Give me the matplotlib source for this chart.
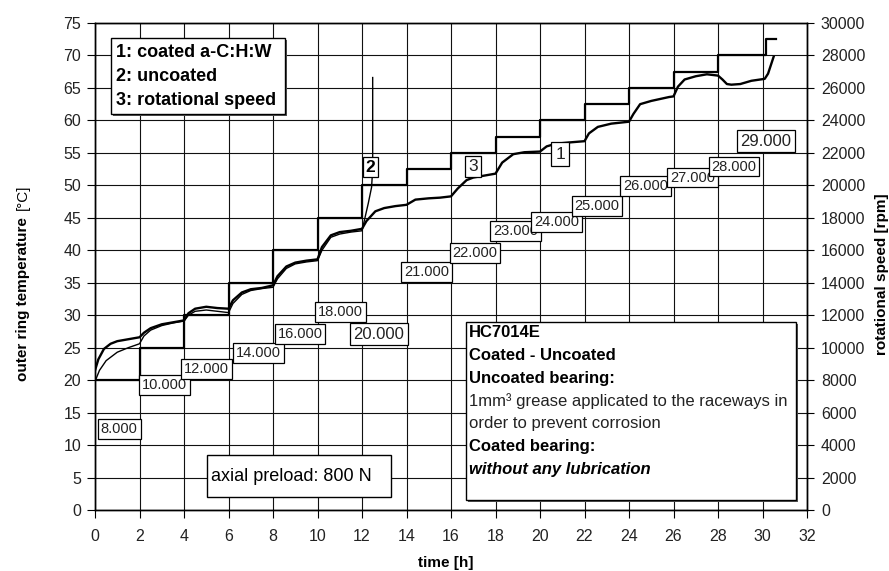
import matplotlib
matplotlib.use('Agg')
import matplotlib.pyplot as plt
from matplotlib.patches import Rectangle

# ---------------- data ----------------
speed_time = [0, 2, 4, 6, 8, 10, 12, 14, 16, 18, 20, 22, 24, 26, 28, 30.15, 30.6]
speed_rpm = [8000, 10000, 12000, 14000, 16000, 18000, 20000, 21000, 22000, 23000,
             24000, 25000, 26000, 27000, 28000, 29000, 29000]

coated_time = [0, 0.15, 0.4, 0.7, 1.0, 1.5, 2.0, 2.2, 2.5, 3.0, 3.5, 4.0, 4.2, 4.5, 5.0, 5.5,
               6.0, 6.2, 6.6, 7.0, 7.5, 8.0, 8.2, 8.6, 9.0, 9.5, 10.0, 10.2, 10.6, 11.0, 11.5,
               12.0, 12.2, 12.6, 13.0, 13.5, 14.0, 14.4, 15.0, 15.5, 16.0, 16.3, 16.7, 17.0,
               17.5, 18.0, 18.3, 18.8, 19.3, 20.0, 20.3, 20.7, 21.3, 22.0, 22.2, 22.6, 23.2,
               24.0, 24.2, 24.5, 25.0, 25.8, 26.0, 26.2, 26.5, 27.0, 27.5, 28.0, 28.2, 28.4,
               28.6, 29.0, 29.5, 30.1, 30.25, 30.5]
coated_temp = [21.5, 23.2, 24.8, 25.6, 26.0, 26.3, 26.6, 27.3, 28.0, 28.6, 28.9, 29.2, 30.3,
               31.0, 31.3, 31.1, 31.0, 32.3, 33.5, 34.0, 34.2, 34.6, 36.0, 37.5, 38.1, 38.4,
               38.6, 40.5, 42.3, 42.8, 43.0, 43.3, 44.5, 46.0, 46.5, 46.8, 47.0, 47.8, 48.0,
               48.1, 48.3, 49.5, 50.8, 51.2, 51.5, 51.8, 53.5, 54.8, 55.1, 55.2, 56.0, 56.4,
               56.6, 56.8, 58.0, 59.0, 59.5, 59.8, 61.0, 62.5, 63.0, 63.6, 63.7, 65.2, 66.3,
               66.8, 67.1, 66.9, 66.3, 65.6, 65.5, 65.6, 66.1, 66.4, 67.2, 69.8]

uncoated_time = [0, 0.2, 0.5, 1.0, 1.5, 2.0, 2.2, 2.5, 3.0, 3.5, 4.0, 4.2, 4.5, 5.0, 5.5, 6.0,
                 6.2, 6.6, 7.0, 7.5, 8.0, 8.2, 8.6, 9.0, 9.5, 10.0, 10.2, 10.6, 11.0, 11.5,
                 12.0, 12.28, 12.43, 12.48, 12.48]
uncoated_temp = [19.8, 21.5, 23.0, 24.3, 25.0, 25.6, 26.8, 27.7, 28.4, 28.8, 29.1, 30.0, 30.6,
                 30.8, 30.6, 30.4, 31.8, 33.2, 33.8, 34.1, 34.3, 35.6, 37.2, 37.9, 38.2, 38.4,
                 40.0, 42.0, 42.5, 42.8, 43.0, 47.2, 49.7, 52.5, 66.6]

speed_labels = ['8.000', '10.000', '12.000', '14.000', '16.000', '18.000', '20.000', '21.000',
                '22.000', '23.000', '24.000', '25.000', '26.000', '27.000', '28.000', '29.000']

x_ticks = list(range(0, 33, 2))
y_ticks = list(range(0, 76, 5))
y2_ticks = list(range(0, 30001, 2000))

legend_lines = ['1: coated a-C:H:W', '2: uncoated', '3: rotational speed']
info_lines = ['HC7014E', 'Coated - Uncoated', 'Uncoated bearing:',
              '1mm\u00b3 grease applicated to the raceways in', 'order to prevent corrosion',
              'Coated bearing:', 'without any lubrication']

# ---------------- layout ----------------
label_pos = [(1.09, 12.5), (3.11, 19.2), (5.01, 21.7), (7.36, 24.2), (9.21, 27.1),
             (11.02, 30.5), (12.76, 27.1), (14.9, 36.6), (17.08, 39.6), (18.9, 43.0),
             (20.75, 44.4), (22.56, 46.8), (24.75, 49.9), (26.85, 51.2), (28.72, 52.9),
             (30.16, 56.8)]
label_big = {'20.000', '29.000'}

SANS = ['Liberation Sans', 'DejaVu Sans']
plt.rcParams['font.family'] = SANS

W, H = 889, 571
fig = plt.figure(figsize=(W / 100, H / 100), dpi=100)
ax = fig.add_axes([95 / W, 61 / H, 712 / W, 487 / H])
ax2 = ax.twinx()

ax.set_xlim(0, 32)
ax.set_ylim(0, 75)
ax2.set_ylim(0, 30000)
ax.set_xticks(x_ticks)
ax.set_yticks(y_ticks)
ax2.set_yticks(y2_ticks)
ax.grid(True, color='#111111', lw=0.8)
ax.set_axisbelow(True)
for a in (ax, ax2):
    for s in a.spines.values():
        s.set_color('black')
        s.set_linewidth(1.0)
TICK_FS = 11.5
ax.tick_params(axis='y', direction='out', length=6, width=0.8, pad=4, labelsize=TICK_FS,
               labelcolor='#222222')
ax.tick_params(axis='x', direction='out', length=6, width=0.8, pad=8, labelsize=TICK_FS,
               labelcolor='#222222')
ax2.tick_params(axis='y', direction='out', length=5, width=0.8, pad=5, labelsize=TICK_FS,
                labelcolor='#222222')

# curves
ax.plot(uncoated_time, uncoated_temp, color='black', lw=1.0, zorder=3)
ax.plot(coated_time, coated_temp, color='black', lw=1.7, zorder=4)
ax2.step(speed_time, speed_rpm, where='post', color='black', lw=1.6, zorder=3)

T = ax.transData

# speed labels
for i, (txt, (xp, yp)) in enumerate(zip(speed_labels, label_pos)):
    fs = 12 if txt in label_big else 10.5
    ax2.text(xp, yp, txt, transform=T, ha='center', va='center', fontsize=fs,
             color='#222222', zorder=10 + i,
             bbox=dict(boxstyle='square,pad=0.2', fc='white', ec='black', lw=0.9))

# curve markers
ax2.text(12.38, 52.8, '2', transform=T, ha='center', va='center', fontsize=12.5,
         fontweight='bold', zorder=30,
         bbox=dict(boxstyle='square,pad=0.15', fc='white', ec='black', lw=0.9))
ax2.text(16.98, 52.9, '3', transform=T, ha='center', va='center', fontsize=12.5,
         zorder=30, color='#222222',
         bbox=dict(boxstyle='square,pad=0.2', fc='white', ec='black', lw=0.9))
ax2.text(20.91, 54.8, '1', transform=T, ha='center', va='center', fontsize=12.5,
         zorder=30, color='#222222',
         bbox=dict(boxstyle='square,pad=0.25', fc='white', ec='black', lw=0.9))


def box(x0, y0, x1, y1, shadow=True):
    if shadow:
        dx, dy = 2 / 22.25, 2 / 6.49
        ax2.add_patch(Rectangle((x0 + dx, y0 - dy), x1 - x0, y1 - y0, transform=T,
                                fc='#555555', ec='none', zorder=40))
    ax2.add_patch(Rectangle((x0, y0), x1 - x0, y1 - y0, transform=T,
                            fc='white', ec='black', lw=1.0, zorder=41))


# legend box
box(0.71, 61.0, 8.55, 72.7)
for k, line in enumerate(legend_lines):
    ax2.text(0.95, 70.5 - k * 3.7, line, transform=T, ha='left', va='center',
             fontsize=13, fontweight='bold', zorder=42)

# info box
box(16.67, 1.6, 31.5, 28.95)
info_style = ['bold', 'bold', 'bold', 'normal', 'normal', 'bold', 'bolditalic']
for k, (line, st) in enumerate(zip(info_lines, info_style)):
    ypix = 332.5 + k * 22.8
    yv = (510 - ypix) / 6.493
    ax2.text(16.82, yv, line, transform=T, ha='left', va='center', fontsize=12,
             fontweight='bold' if 'bold' in st else 'normal',
             fontstyle='italic' if 'italic' in st else 'normal',
             color='black' if 'bold' in st else '#222222', zorder=42)

# axial preload box
box(5.04, 2.0, 13.29, 8.5, shadow=False)
ax2.text(5.2, 5.1, 'axial preload: 800 N', transform=T, ha='left', va='center',
         fontsize=13, zorder=42)

# axis titles
fig.text(23 / W, 1 - 299 / H, 'outer ring temperature', rotation=90, ha='center',
         va='center', fontsize=11, fontweight='bold')
fig.text(23 / W, 1 - 197 / H, '[\u00b0C]', rotation=90, ha='center',
         va='center', fontsize=11)
fig.text(882 / W, 1 - 274 / H, 'rotational speed [rpm]', rotation=90, ha='center',
         va='center', fontsize=11, fontweight='bold')
fig.text(446 / W, 1 - 563 / H, 'time [h]', ha='center', va='center', fontsize=11,
         fontweight='bold')

fig.savefig('out.png', dpi=100, facecolor='white')
